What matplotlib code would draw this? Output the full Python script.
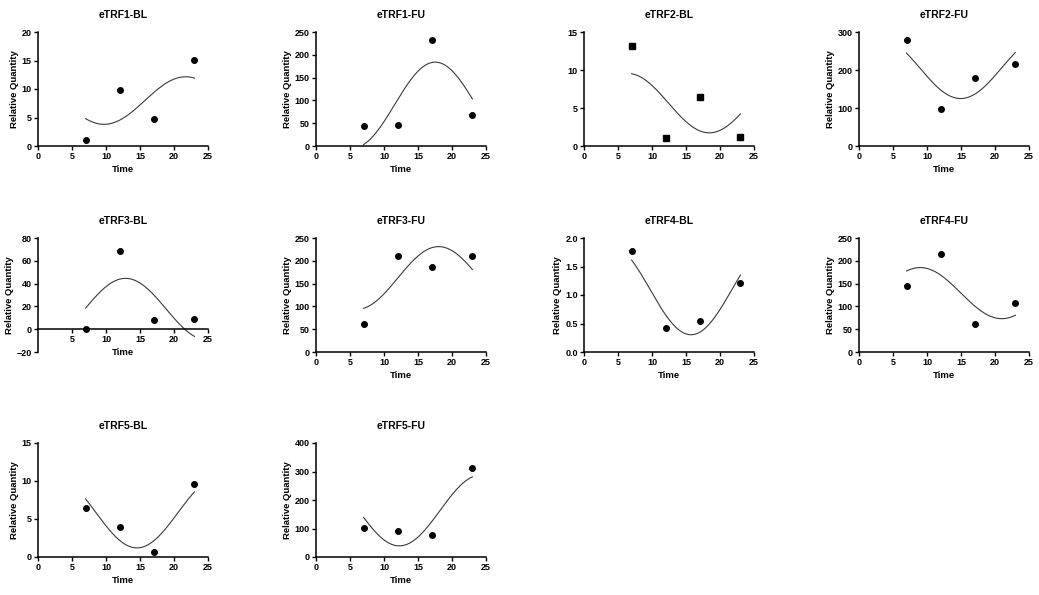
import matplotlib
matplotlib.use("Agg")
import matplotlib.pyplot as plt
import numpy as np
from matplotlib.ticker import FormatStrFormatter

plt.rcParams['font.family'] = ['Liberation Sans', 'DejaVu Sans']
plt.rcParams['font.weight'] = 'bold'

# sampling times (h) shared by every panel
times = [7, 12, 17, 23]

titles = ["eTRF1-BL", "eTRF1-FU", "eTRF2-BL", "eTRF2-FU",
          "eTRF3-BL", "eTRF3-FU", "eTRF4-BL", "eTRF4-FU",
          "eTRF5-BL", "eTRF5-FU"]

etrf1_bl = [1.0, 9.8, 4.7, 15.1]
etrf1_fu = [44, 45, 233, 69]
etrf2_bl = [13.1, 1.1, 6.4, 1.2]
etrf2_fu = [280, 98, 180, 216]
etrf3_bl = [0.4, 69, 8.1, 8.9]
etrf3_fu = [61, 210, 186, 210]
etrf4_bl = [1.78, 0.42, 0.55, 1.21]
etrf4_fu = [145, 214, 61, 108]
etrf5_bl = [6.4, 3.9, 0.6, 9.6]
etrf5_fu = [101, 92, 77, 313]

values = [etrf1_bl, etrf1_fu, etrf2_bl, etrf2_fu, etrf3_bl,
          etrf3_fu, etrf4_bl, etrf4_fu, etrf5_bl, etrf5_fu]

# y axis range / step per panel
y_ranges = [(0, 20, 5), (0, 250, 50), (0, 15, 5), (0, 300, 100),
            (-20, 80, 20), (0, 250, 50), (0, 2.0, 0.5), (0, 250, 50),
            (0, 15, 5), (0, 400, 100)]

PERIOD = 24.0


def cosinor(t, y, tt):
    # least-squares 24 h cosine fit: y = M + b*cos(wt) + c*sin(wt)
    w = 2 * np.pi / PERIOD
    t = np.asarray(t, float)
    X = np.column_stack([np.ones_like(t), np.cos(w * t), np.sin(w * t)])
    coef = np.linalg.lstsq(X, np.asarray(y, float), rcond=None)[0]
    return coef[0] + coef[1] * np.cos(w * tt) + coef[2] * np.sin(w * tt)


W, H = 1039, 595
fig = plt.figure(figsize=(W / 100, H / 100), dpi=100)

col_left = [38, 316, 584, 859]
row_top = [32, 238, 443]
aw, ah = 170, 114

tt = np.linspace(times[0], times[-1], 200)

for i, (title, yv) in enumerate(zip(titles, values)):
    r, c = divmod(i, 4)
    ax = fig.add_axes([col_left[c] / W, (H - row_top[r] - ah) / H, aw / W, ah / H])
    lo, hi, step = y_ranges[i]

    marker = 's' if title == "eTRF2-BL" else 'o'
    ax.plot(times, yv, linestyle='none', marker=marker, color='black',
            markersize=4.0 if marker == 'o' else 3.8, clip_on=False, zorder=3)
    ax.plot(tt, cosinor(times, yv, tt), color='#3a3a3a', linewidth=0.8)

    ax.set_xlim(0, 25)
    ax.set_ylim(lo, hi)
    ax.set_xticks(np.arange(0, 26, 5))
    ax.set_yticks(np.arange(lo, hi + step / 2, step))
    if title == "eTRF4-BL":
        ax.yaxis.set_major_formatter(FormatStrFormatter('%.1f'))

    for s in ['top', 'right']:
        ax.spines[s].set_visible(False)
    for s in ['left', 'bottom']:
        ax.spines[s].set_linewidth(1.1)
    label_y = -0.165
    if lo < 0:
        ax.spines['bottom'].set_position(('data', 0))
        ax.set_xticks(np.arange(5, 26, 5))
        label_y += (0 - lo) / (hi - lo)

    ax.tick_params(direction='out', length=3, width=1.0, labelsize=6.5, pad=1.5)
    for lab in ax.get_xticklabels() + ax.get_yticklabels():
        lab.set_fontweight('bold')

    ax.set_title(title, fontsize=7.5, fontweight='bold', pad=10)
    if title != "eTRF2-BL":
        ax.set_ylabel("Relative Quantity", fontsize=6.8, fontweight='bold', labelpad=2)
        ax.set_xlabel("Time", fontsize=6.8, fontweight='bold')
        ax.xaxis.set_label_coords(0.5, label_y)

fig.savefig("out.png", dpi=100)
